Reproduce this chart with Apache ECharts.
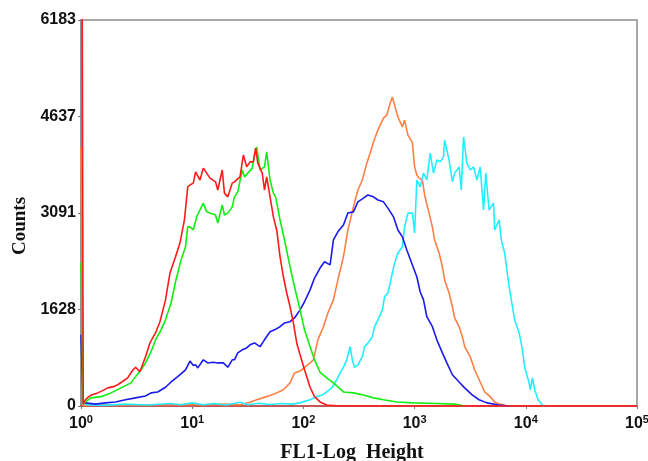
<!DOCTYPE html>
<html>
<head>
<meta charset="utf-8">
<script src="https://cdn.jsdelivr.net/npm/echarts@6/dist/echarts.min.js"></script>
<style>
  html, body { margin: 0; padding: 0; background: #fff; }
  #chart { width: 648px; height: 461px; }
</style>
</head>
<body>
<div id="chart"></div>
<script>
// y tick labels as printed on the instrument plot (equally spaced)
const yTickLabels = ['0', '1628', '3091', '4637', '6183'];
const yMax = 6183;

// each curve: log10 of FL1 height, and counts
const redLog = [0.01, 0.02, 0.04, 0.07, 0.10, 0.15, 0.20, 0.24, 0.29, 0.33, 0.38, 0.42, 0.46, 0.49, 0.53, 0.58, 0.62, 0.67, 0.71, 0.76, 0.80, 0.85, 0.89, 0.93, 0.96, 0.98, 1.01, 1.03, 1.07, 1.10, 1.13, 1.16, 1.21, 1.23, 1.27, 1.29, 1.32, 1.36, 1.38, 1.43, 1.46, 1.49, 1.52, 1.55, 1.57, 1.59, 1.63, 1.65, 1.67, 1.70, 1.73, 1.76, 1.79, 1.82, 1.85, 1.88, 1.91, 1.94, 1.97, 2.01, 2.06, 2.10, 2.15, 2.21, 2.33, 5];
const redCounts = [7000, 30, 100, 150, 180, 210, 250, 290, 310, 340, 400, 450, 560, 620, 550, 790, 1010, 1170, 1350, 1700, 2130, 2390, 2610, 2980, 3510, 3540, 3570, 3750, 3620, 3810, 3730, 3650, 3590, 3460, 3780, 3410, 3350, 3570, 3590, 3670, 4020, 3830, 3910, 3910, 4130, 3890, 3730, 3460, 3670, 3350, 3030, 2820, 2390, 2070, 1810, 1590, 1330, 1010, 820, 580, 300, 150, 65, 15, 0, 0];

const greenLog = [0, 0.02, 0.04, 0.09, 0.18, 0.27, 0.36, 0.45, 0.49, 0.54, 0.58, 0.63, 0.67, 0.72, 0.76, 0.81, 0.85, 0.90, 0.94, 0.96, 0.98, 1.01, 1.04, 1.07, 1.10, 1.13, 1.16, 1.21, 1.23, 1.27, 1.29, 1.32, 1.36, 1.38, 1.41, 1.45, 1.47, 1.50, 1.54, 1.56, 1.58, 1.61, 1.65, 1.67, 1.70, 1.73, 1.75, 1.79, 1.83, 1.88, 1.92, 1.97, 2.01, 2.06, 2.10, 2.15, 2.21, 2.27, 2.36, 2.45, 2.54, 2.63, 2.72, 2.84, 2.99, 3.20, 3.36, 3.45];
const greenCounts = [2300, 30, 65, 130, 150, 210, 290, 370, 470, 580, 690, 870, 1060, 1220, 1380, 1650, 1990, 2340, 2550, 2870, 2870, 2820, 3030, 3140, 3250, 3110, 3090, 3060, 2930, 3220, 3060, 3090, 3190, 3350, 3430, 3780, 3670, 3730, 3810, 4020, 4150, 3780, 3830, 4070, 3620, 3410, 3350, 2980, 2660, 2230, 1910, 1540, 1220, 950, 740, 540, 450, 370, 225, 210, 175, 130, 100, 65, 50, 40, 30, 0];

const blueLog = [0, 0.02, 0.04, 0.13, 0.22, 0.31, 0.40, 0.49, 0.58, 0.63, 0.69, 0.76, 0.81, 0.87, 0.94, 0.98, 1.01, 1.03, 1.05, 1.10, 1.14, 1.19, 1.23, 1.28, 1.32, 1.36, 1.38, 1.41, 1.45, 1.49, 1.52, 1.56, 1.61, 1.65, 1.70, 1.74, 1.79, 1.83, 1.88, 1.92, 1.97, 2.01, 2.06, 2.10, 2.15, 2.19, 2.24, 2.27, 2.31, 2.36, 2.40, 2.45, 2.49, 2.54, 2.58, 2.63, 2.67, 2.72, 2.76, 2.81, 2.85, 2.89, 2.93, 2.98, 3.02, 3.05, 3.08, 3.11, 3.16, 3.20, 3.25, 3.29, 3.34, 3.40, 3.45, 3.52, 3.58, 3.65, 3.76, 3.85];
const blueCounts = [1140, 40, 50, 30, 50, 65, 100, 130, 160, 210, 225, 300, 385, 470, 580, 720, 650, 660, 610, 740, 690, 700, 690, 690, 620, 740, 740, 850, 900, 930, 980, 1010, 950, 1060, 1190, 1220, 1270, 1330, 1350, 1410, 1540, 1670, 1860, 2050, 2210, 2310, 2260, 2660, 2790, 2900, 3090, 3110, 3270, 3330, 3380, 3350, 3300, 3270, 3170, 3030, 2820, 2710, 2500, 2260, 2070, 1830, 1700, 1430, 1270, 1060, 850, 690, 500, 385, 290, 175, 100, 50, 15, 0];

const orangeLog = [0, 0.02, 0.10, 0.30, 0.50, 0.70, 0.90, 1.10, 1.30, 1.43, 1.52, 1.58, 1.67, 1.76, 1.82, 1.88, 1.92, 1.97, 2.01, 2.06, 2.09, 2.13, 2.18, 2.22, 2.27, 2.31, 2.36, 2.40, 2.45, 2.49, 2.53, 2.57, 2.60, 2.63, 2.67, 2.72, 2.75, 2.78, 2.80, 2.82, 2.85, 2.89, 2.91, 2.94, 2.98, 3.00, 3.02, 3.04, 3.07, 3.09, 3.13, 3.16, 3.18, 3.22, 3.25, 3.27, 3.31, 3.34, 3.36, 3.40, 3.43, 3.45, 3.50, 3.54, 3.59, 3.63, 3.68, 3.72, 3.77, 3.83];
const orangeCounts = [4150, 10, 10, 20, 15, 20, 25, 20, 30, 20, 60, 100, 150, 210, 260, 370, 530, 560, 620, 690, 740, 1060, 1270, 1490, 1700, 2020, 2390, 2820, 3190, 3460, 3620, 3890, 4050, 4230, 4420, 4610, 4660, 4850, 4950, 4820, 4630, 4470, 4580, 4340, 4220, 3830, 3700, 3650, 3620, 3380, 3090, 2870, 2660, 2450, 2230, 2020, 1810, 1590, 1410, 1270, 1110, 950, 790, 580, 385, 225, 150, 65, 30, 0];

const cyanLog = [0.04, 0.20, 0.40, 0.60, 0.80, 0.90, 1.00, 1.10, 1.20, 1.30, 1.43, 1.50, 1.60, 1.70, 1.80, 1.90, 1.97, 2.06, 2.12, 2.17, 2.21, 2.26, 2.30, 2.33, 2.36, 2.39, 2.42, 2.44, 2.46, 2.49, 2.53, 2.55, 2.58, 2.62, 2.64, 2.67, 2.71, 2.73, 2.76, 2.80, 2.82, 2.85, 2.89, 2.91, 2.94, 2.98, 3.00, 3.02, 3.05, 3.08, 3.11, 3.14, 3.17, 3.20, 3.23, 3.26, 3.27, 3.31, 3.34, 3.36, 3.40, 3.42, 3.44, 3.47, 3.50, 3.53, 3.56, 3.59, 3.62, 3.64, 3.67, 3.71, 3.72, 3.76, 3.78, 3.81, 3.85, 3.88, 3.90, 3.94, 3.97, 3.99, 4.03, 4.04, 4.06, 4.08, 4.11, 4.15, 4.17];
const cyanCounts = [20, 10, 30, 15, 40, 20, 50, 20, 40, 15, 60, 20, 45, 25, 40, 30, 50, 100, 150, 175, 225, 300, 420, 530, 620, 740, 950, 740, 620, 660, 790, 950, 1010, 1110, 1270, 1380, 1540, 1750, 1810, 2130, 2290, 2450, 2550, 2870, 3090, 3090, 2770, 3620, 3510, 3730, 3620, 4050, 3730, 3940, 3910, 3990, 4260, 3940, 3590, 3730, 3830, 3460, 4310, 3890, 3780, 3830, 3620, 3830, 3140, 3730, 3140, 3250, 2820, 2980, 2660, 2450, 1910, 1590, 1380, 1170, 900, 620, 370, 260, 450, 260, 100, 15, 0];

function toPoints(logs, counts) {
  return logs.map((e, i) => [Math.pow(10, e), counts[i]]);
}

const myChart = echarts.init(document.getElementById('chart'));

const lineSeries = (name, color, logs, counts) => ({
  name: name,
  type: 'line',
  showSymbol: false,
  symbol: 'none',
  lineStyle: { color: color, width: 1.6 },
  data: toPoints(logs, counts)
});

const option = {
  animation: false,
  backgroundColor: '#fff',
  grid: {
    left: 81,
    right: 11,
    top: 20,
    bottom: 55,
    outerBoundsMode: 'none',
    show: true,
    borderColor: '#8c8c8c',
    borderWidth: 1.5
  },
  xAxis: {
    type: 'log',
    logBase: 10,
    min: 1,
    max: 100000,
    name: 'FL1-Log  Height',
    nameLocation: 'middle',
    nameGap: 37,
    nameTextStyle: {
      fontFamily: 'Liberation Serif',
      fontWeight: 'bold',
      fontSize: 20,
      color: '#111',
      padding: [0, 14, 0, 0]
    },
    axisLine: { lineStyle: { color: '#cc3b3b', width: 1.5 } },
    axisTick: { show: true, length: 3, lineStyle: { color: '#777' } },
    minorTick: { show: false },
    splitLine: { show: false },
    axisLabel: {
      margin: 8,
      color: '#111',
      fontFamily: 'Liberation Sans',
      fontWeight: 'bold',
      fontSize: 16,
      formatter: v => '10{sup|' + Math.round(Math.log10(v)) + '}',
      rich: {
        sup: {
          fontFamily: 'Liberation Sans',
          fontWeight: 'bold',
          fontSize: 11,
          color: '#111',
          padding: [0, 0, 9, 0]
        }
      }
    }
  },
  yAxis: {
    type: 'value',
    min: 0,
    max: yMax,
    interval: yMax / 4,
    axisLine: { show: true, lineStyle: { color: '#8c8c8c', width: 1.5 } },
    axisTick: { show: true, length: 3, lineStyle: { color: '#777' } },
    splitLine: { show: false },
    axisLabel: {
      margin: 5,
      color: '#111',
      fontFamily: 'Liberation Sans',
      fontWeight: 'bold',
      fontSize: 16,
      formatter: v => yTickLabels[Math.round(v / (yMax / 4))]
    }
  },
  graphic: [{
    type: 'text',
    x: 20,
    y: 226,
    rotation: Math.PI / 2,
    style: {
      text: 'Counts',
      fontFamily: 'Liberation Serif',
      fontWeight: 'bold',
      fontSize: 19,
      fill: '#111',
      align: 'center',
      verticalAlign: 'middle'
    }
  }],
  series: [
    lineSeries('orange', '#ff7f45', orangeLog, orangeCounts),
    lineSeries('cyan', '#22eeff', cyanLog, cyanCounts),
    lineSeries('blue', '#1a1aee', blueLog, blueCounts),
    lineSeries('green', '#11ee11', greenLog, greenCounts),
    lineSeries('red', '#ff1a1a', redLog, redCounts)
  ]
};

myChart.setOption(option);
</script>
</body>
</html>
